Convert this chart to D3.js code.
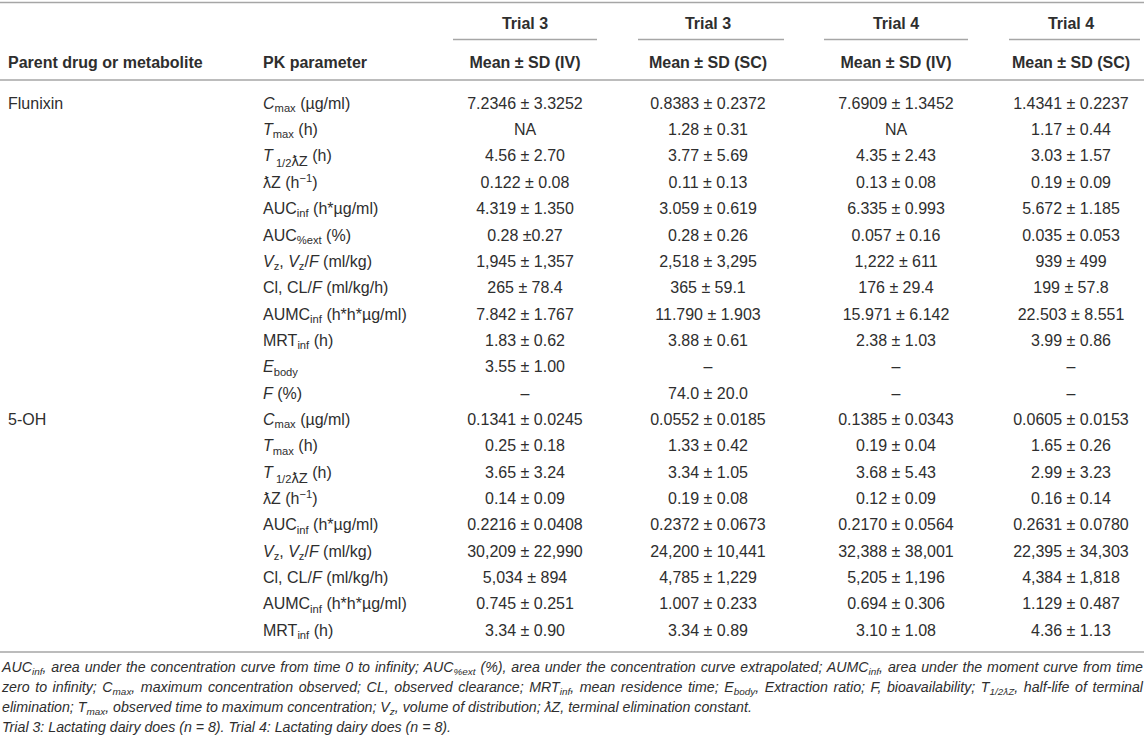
<!DOCTYPE html>
<html lang="en">
<head>
  <meta charset="UTF-8">
  <script src="https://d3js.org/d3.v7.min.js"></script>
  <title>PK parameters table</title>
  <style>
    body { margin: 0; background: #fff; }
    svg { display: block; font-family: "Liberation Sans", Arial, Helvetica, sans-serif; }
  </style>
</head>
<body>
  <svg width="1144" height="740"></svg>
  <script>
    // column headers
    const trials = ["Trial 3", "Trial 3", "Trial 4", "Trial 4"];
    const routes = ["Mean ± SD (IV)", "Mean ± SD (SC)", "Mean ± SD (IV)", "Mean ± SD (SC)"];

    // row groups
    const drugs = ["Flunixin", "5-OH"];
    const drugStartRow = [0, 12];

    // parameter keys, one per row
    const params = [
      "Cmax", "Tmax", "T12", "lz", "AUCinf", "AUCext", "Vz", "Cl", "AUMCinf", "MRTinf", "Ebody", "F",
      "Cmax", "Tmax", "T12", "lz", "AUCinf", "Vz", "Cl", "AUMCinf", "MRTinf"
    ];

    // values per column
    const trial3IV = [
      "7.2346 ± 3.3252", "NA", "4.56 ± 2.70", "0.122 ± 0.08", "4.319 ± 1.350", "0.28 ±0.27",
      "1,945 ± 1,357", "265 ± 78.4", "7.842 ± 1.767", "1.83 ± 0.62", "3.55 ± 1.00", "–",
      "0.1341 ± 0.0245", "0.25 ± 0.18", "3.65 ± 3.24", "0.14 ± 0.09", "0.2216 ± 0.0408",
      "30,209 ± 22,990", "5,034 ± 894", "0.745 ± 0.251", "3.34 ± 0.90"
    ];
    const trial3SC = [
      "0.8383 ± 0.2372", "1.28 ± 0.31", "3.77 ± 5.69", "0.11 ± 0.13", "3.059 ± 0.619", "0.28 ± 0.26",
      "2,518 ± 3,295", "365 ± 59.1", "11.790 ± 1.903", "3.88 ± 0.61", "–", "74.0 ± 20.0",
      "0.0552 ± 0.0185", "1.33 ± 0.42", "3.34 ± 1.05", "0.19 ± 0.08", "0.2372 ± 0.0673",
      "24,200 ± 10,441", "4,785 ± 1,229", "1.007 ± 0.233", "3.34 ± 0.89"
    ];
    const trial4IV = [
      "7.6909 ± 1.3452", "NA", "4.35 ± 2.43", "0.13 ± 0.08", "6.335 ± 0.993", "0.057 ± 0.16",
      "1,222 ± 611", "176 ± 29.4", "15.971 ± 6.142", "2.38 ± 1.03", "–", "–",
      "0.1385 ± 0.0343", "0.19 ± 0.04", "3.68 ± 5.43", "0.12 ± 0.09", "0.2170 ± 0.0564",
      "32,388 ± 38,001", "5,205 ± 1,196", "0.694 ± 0.306", "3.10 ± 1.08"
    ];
    const trial4SC = [
      "1.4341 ± 0.2237", "1.17 ± 0.44", "3.03 ± 1.57", "0.19 ± 0.09", "5.672 ± 1.185", "0.035 ± 0.053",
      "939 ± 499", "199 ± 57.8", "22.503 ± 8.551", "3.99 ± 0.86", "–", "–",
      "0.0605 ± 0.0153", "1.65 ± 0.26", "2.99 ± 3.23", "0.16 ± 0.14", "0.2631 ± 0.0780",
      "22,395 ± 34,303", "4,384 ± 1,818", "1.129 ± 0.487", "4.36 ± 1.13"
    ];
    const columns = [trial3IV, trial3SC, trial4IV, trial4SC];

    // rich labels: [text, kind]  kind: n normal, i italic, sub, sup
    const labelParts = {
      Cmax: [["C", "i"], ["max", "sub"], [" (µg/ml)", "n"]],
      Tmax: [["T", "i"], ["max", "sub"], [" (h)", "n"]],
      T12: [["T", "i"], [" 1/2", "subD"], ["ƛZ", "subL"], [" (h)", "n"]],
      lz: [["ƛZ (h", "n"], ["−1", "sup"], [")", "n"]],
      AUCinf: [["AUC", "n"], ["inf", "sub"], [" (h*µg/ml)", "n"]],
      AUCext: [["AUC", "n"], ["%ext", "sub"], [" (%)", "n"]],
      Vz: [["V", "i"], ["z", "sub"], [", ", "n"], ["V", "i"], ["z", "sub"], ["/", "n"], ["F", "i"], [" (ml/kg)", "n"]],
      Cl: [["Cl, CL/", "n"], ["F", "i"], [" (ml/kg/h)", "n"]],
      AUMCinf: [["AUMC", "n"], ["inf", "sub"], [" (h*h*µg/ml)", "n"]],
      MRTinf: [["MRT", "n"], ["inf", "sub"], [" (h)", "n"]],
      Ebody: [["E", "i"], ["body", "sub"]],
      F: [["F", "i"], [" (%)", "n"]]
    };

    const footLines = [
      [["AUC", "n"], ["inf", "sub"], [", area under the concentration curve from time 0 to infinity; AUC", "n"], ["%ext", "sub"],
       [" (%), area under the concentration curve extrapolated; AUMC", "n"], ["inf", "sub"], [", area under the moment curve from time", "n"]],
      [["zero to infinity; C", "n"], ["max", "sub"], [", maximum concentration observed; CL, observed clearance; MRT", "n"], ["inf", "sub"],
       [", mean residence time; E", "n"], ["body", "sub"], [", Extraction ratio; F, bioavailability; T", "n"], ["1/2ƛZ", "sub"],
       [", half-life of terminal", "n"]],
      [["elimination; T", "n"], ["max", "sub"], [", observed time to maximum concentration; V", "n"], ["z", "sub"],
       [", volume of distribution; ƛZ, terminal elimination constant.", "n"]],
      [["Trial 3: Lactating dairy does (n = 8). Trial 4: Lactating dairy does (n = 8).", "n"]]
    ];

    const svg = d3.select("svg");
    const W = 1144;
    const textColor = "#2e2e2e";
    const ruleColor = "#a6a6a6";
    const fs = 16;

    const colX = d3.scaleOrdinal().domain(d3.range(4)).range([525, 708, 896, 1071]);
    const underline = [[453, 597], [638, 784], [824, 968], [1009, 1140]];
    const rowY = d3.scaleBand().domain(d3.range(params.length)).range([89.8, 643.2]);
    const rowMid = i => rowY(i) + rowY.bandwidth() / 2;

    // writes rich text parts into a text element
    function writeParts(textSel, parts, size, italicAll) {
      let shift = 0;
      parts.forEach(([t, kind]) => {
        let target = 0, s = size, italic = italicAll || kind === "i";
        if (kind === "sub") { target = size * 0.2; s = size * 0.7; }
        if (kind === "subD") { target = size * 0.32; s = size * 0.7; }
        if (kind === "subL") { target = size * 0.3; s = size * 0.92; }
        if (kind === "sup") { target = -size * 0.38; s = size * 0.7; }
        textSel.append("tspan")
          .attr("dy", target - shift)
          .attr("font-size", s)
          .attr("font-style", italic ? "italic" : null)
          .text(t);
        shift = target;
      });
    }

    // rules
    const rules = [[0, W, 2.5], [0, W, 80], [0, W, 652]];
    svg.selectAll("line.rule").data(rules).join("line")
      .attr("class", "rule")
      .attr("x1", d => d[0]).attr("x2", d => d[1])
      .attr("y1", d => d[2]).attr("y2", d => d[2])
      .attr("stroke", ruleColor).attr("stroke-width", 1.5);

    svg.selectAll("line.under").data(underline).join("line")
      .attr("class", "under")
      .attr("x1", d => d[0]).attr("x2", d => d[1])
      .attr("y1", 39.5).attr("y2", 39.5)
      .attr("stroke", ruleColor).attr("stroke-width", 1.5);

    // header text
    const head = svg.append("g").attr("font-weight", "bold").attr("font-size", fs).attr("fill", textColor);
    head.selectAll("text.trial").data(trials).join("text")
      .attr("class", "trial")
      .attr("x", (d, i) => colX(i)).attr("y", 28.5)
      .attr("text-anchor", "middle").text(d => d);
    head.selectAll("text.route").data(routes).join("text")
      .attr("class", "route")
      .attr("x", (d, i) => colX(i)).attr("y", 67.5)
      .attr("text-anchor", "middle").text(d => d);
    head.append("text").attr("x", 8).attr("y", 67.5).text("Parent drug or metabolite");
    head.append("text").attr("x", 263).attr("y", 67.5).text("PK parameter");

    // body
    const body = svg.append("g").attr("font-size", fs).attr("fill", textColor);
    body.selectAll("text.drug").data(drugs).join("text")
      .attr("class", "drug")
      .attr("x", 8).attr("y", (d, i) => rowMid(drugStartRow[i]) + 5.8)
      .text(d => d);

    body.selectAll("text.param").data(params).join("text")
      .attr("class", "param")
      .attr("x", 263).attr("y", (d, i) => rowMid(i) + 5.8)
      .each(function (d) { writeParts(d3.select(this), labelParts[d], fs, false); });

    columns.forEach((col, c) => {
      body.append("g").selectAll("text").data(col).join("text")
        .attr("x", colX(c)).attr("y", (d, i) => rowMid(i) + 5.8)
        .attr("text-anchor", "middle")
        .text(d => d);
    });

    // footnote
    const footSize = 14.2;
    const foot = svg.append("g").attr("font-size", footSize).attr("fill", textColor);
    footLines.forEach((parts, i) => {
      const t = foot.append("text").attr("x", 2).attr("y", 672 + i * 20);
      writeParts(t, parts, footSize, true);
      if (i < 2) {
        // justify the wrapped lines to the full width
        const natural = t.node().getComputedTextLength();
        const spaces = parts.map(p => p[0]).join("").split(" ").length - 1;
        t.attr("word-spacing", Math.max(0, (1141 - natural) / spaces));
      }
    });
  </script>
</body>
</html>
